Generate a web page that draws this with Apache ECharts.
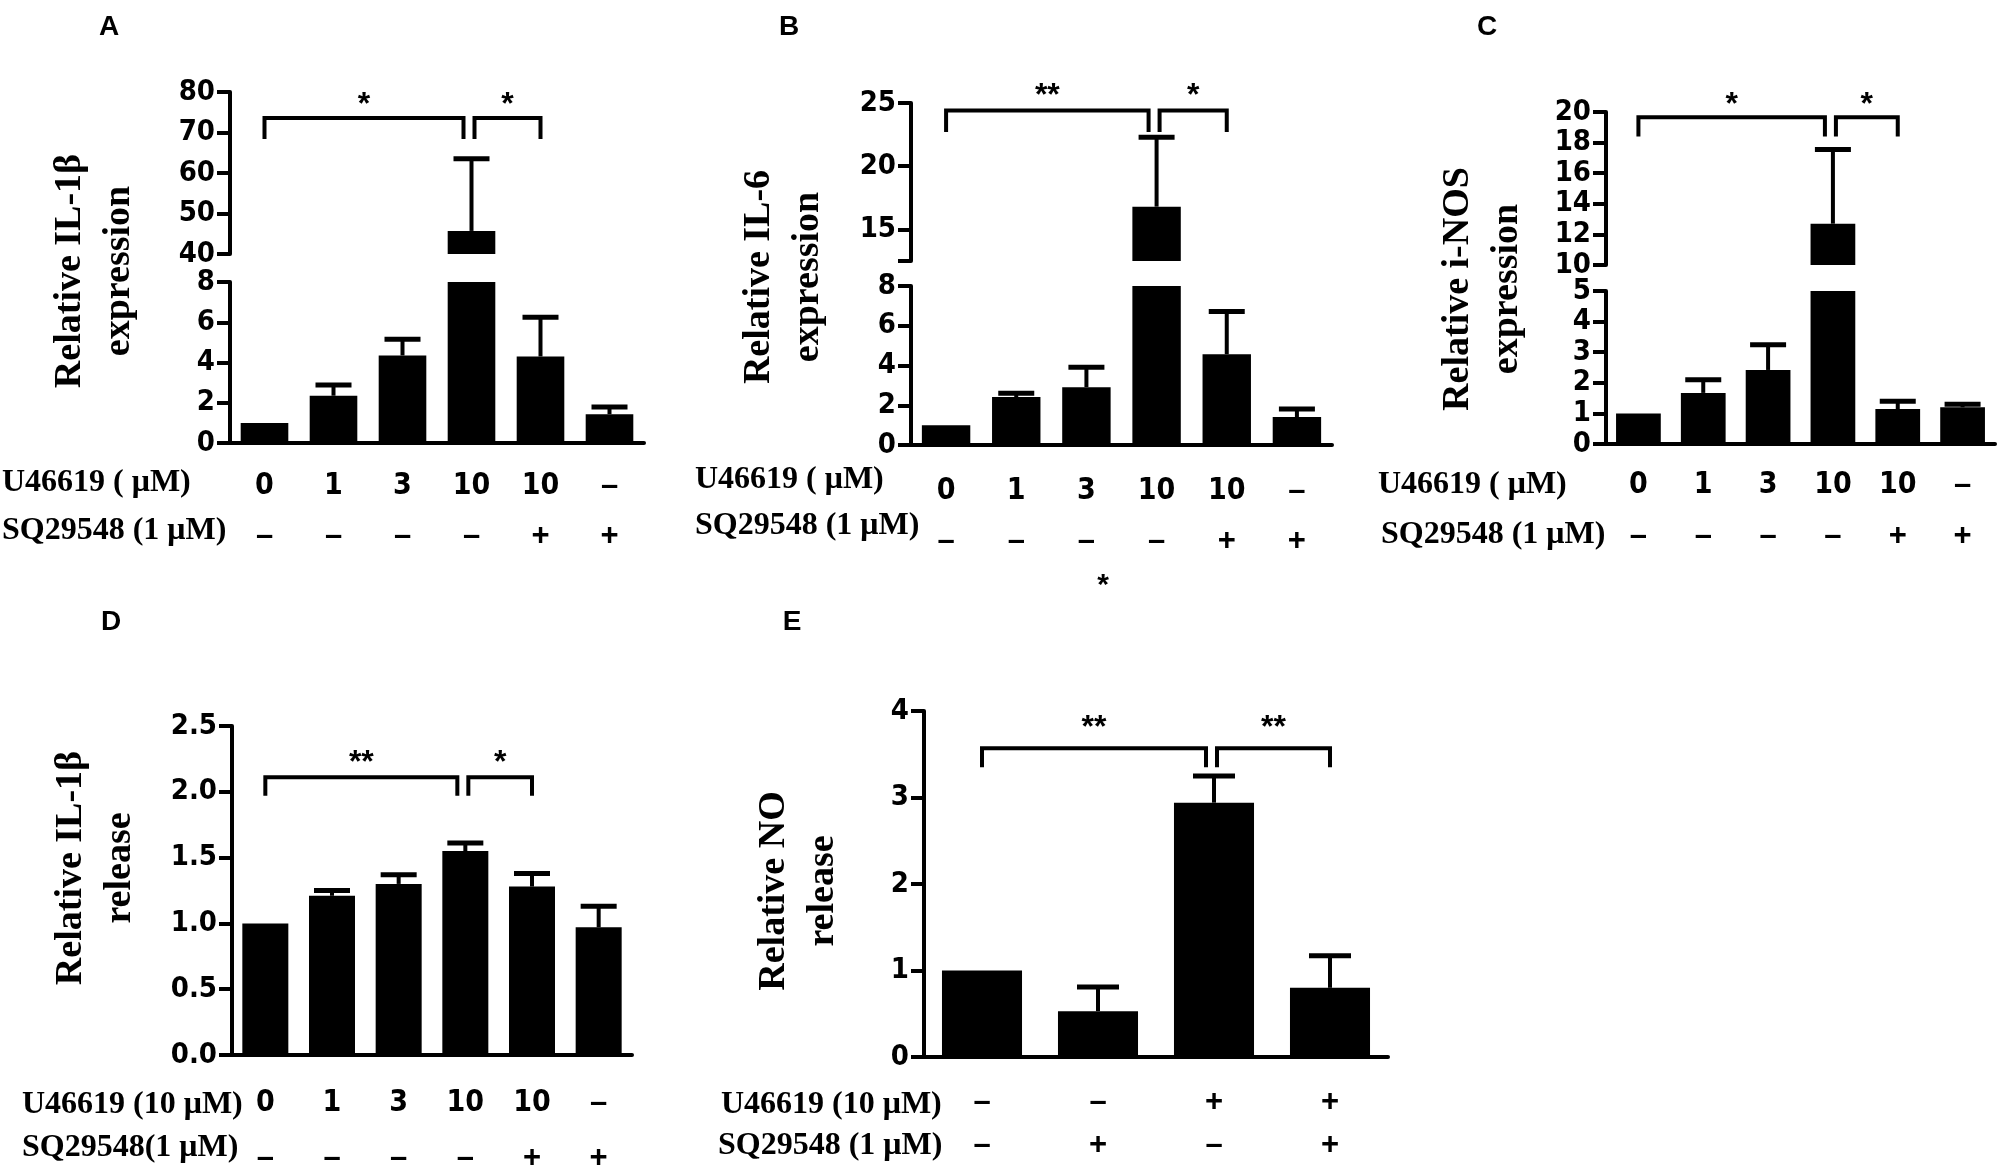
<!DOCTYPE html>
<html>
<head>
<meta charset="utf-8">
<script src="https://cdn.jsdelivr.net/npm/echarts@6/dist/echarts.min.js"></script>
<style>
html, body { margin: 0; padding: 0; background: #fff; }
#main { width: 2000px; height: 1174px; }
</style>
</head>
<body>
<div id="main"></div>
<script>
// rows printed under the bars
var u_dose = ['0', '1', '3', '10', '10', '–'];
var sq_dose = ['–', '–', '–', '–', '+', '+'];
var u_dose_e = ['–', '–', '+', '+'];
var sq_dose_e = ['–', '+', '–', '+'];

// A  relative IL-1β expression
var a_mean = [1.0, 2.35, 4.35, 45.7, 4.3, 1.43];
var a_sd = [0, 0.53, 0.8, 17.8, 1.95, 0.36];
// B  relative IL-6 expression
var b_mean = [1.0, 2.41, 2.91, 16.8, 4.57, 1.41];
var b_sd = [0, 0.2, 1.0, 5.5, 2.15, 0.4];
// C  relative i-NOS expression
var c_mean = [1.0, 1.67, 2.42, 12.7, 1.14, 1.2];
var c_sd = [0, 0.43, 0.82, 4.85, 0.26, 0.1];
// D  relative IL-1β release
var d_mean = [1.0, 1.21, 1.30, 1.55, 1.28, 0.97];
var d_sd = [0, 0.04, 0.07, 0.06, 0.10, 0.16];
// E  relative NO release
var e_mean = [1.0, 0.53, 2.94, 0.80];
var e_sd = [0, 0.28, 0.31, 0.37];

// brackets: [from bar, to bar, top value, leg end value, mark]
var a_sig = [[0, 3, 73.6, 68.4, '*'], [3, 4, 73.6, 68.4, '*']];
var b_sig = [[0, 3, 24.4, 22.7, '**'], [3, 4, 24.4, 22.7, '*']];
var c_sig = [[0, 3, 19.65, 18.4, '*'], [3, 4, 19.65, 18.4, '*']];
var d_sig = [[0, 3, 2.11, 1.97, '**'], [3, 4, 2.11, 1.97, '*']];
var e_sig = [[0, 2, 3.57, 3.35, '**'], [2, 3, 3.57, 3.35, '**']];

var NUM_FONT = '"Liberation Sans Narrow", "Arial Narrow", "DejaVu Sans Condensed", sans-serif';
var SANS = '"Liberation Sans", Arial, sans-serif';
var SERIF = '"Liberation Serif", "Times New Roman", serif';
var AX = { color: '#000', width: 4 };

var grids = [], xAxes = [], yAxes = [], series = [];

// error bar drawn up from the bar top
function errorItem(half) {
	return function (params, api) {
		var p0 = api.coord([api.value(0), api.value(1)]);
		var p1 = api.coord([api.value(0), api.value(2)]);
		return { type: 'group', children: [
			{ type: 'line', shape: { x1: p0[0], y1: p0[1], x2: p1[0], y2: p1[1] }, style: { stroke: '#000', lineWidth: 4 } },
			{ type: 'line', shape: { x1: p1[0] - half, y1: p1[1], x2: p1[0] + half, y2: p1[1] }, style: { stroke: '#000', lineWidth: 5 } }
		] };
	};
}

// significance brackets with stars
function bracketSeries(sig, gi, starUp) {
	return {
		type: 'custom', xAxisIndex: gi, yAxisIndex: gi, silent: true,
		data: sig.map(function (s) { return [s[0], s[2], s[1], s[3]]; }),
		renderItem: function (params, api) {
			var s = sig[params.dataIndex];
			var a = api.coord([s[0], s[2]]), b = api.coord([s[1], s[2]]);
			var leg = api.coord([s[0], s[3]])[1];
			var x1 = a[0], x2 = b[0];
			sig.forEach(function (o) {
				if (o !== s && o[0] === s[1]) x2 -= 8;
				if (o !== s && o[1] === s[0]) x1 += 3;
			});
			return { type: 'group', children: [
				{ type: 'polyline', shape: { points: [[x1, leg], [x1, a[1]], [x2, a[1]], [x2, leg]] },
					style: { stroke: '#000', lineWidth: 4, fill: 'none' } },
				{ type: 'text', x: (x1 + x2) / 2, y: a[1] - starUp,
					style: { text: s[4], fontSize: 32, fontWeight: 'bold', fontFamily: SANS, fill: '#000', align: 'center', verticalAlign: 'middle' } }
			] };
		}
	};
}

// "+" and "–" use a plain bold face, numbers the narrow one
function rowTag(s, row) {
	return (s === '+' || s === '–') ? '{s|' + s + '}' : '{' + row + '|' + s + '}';
}

function addPanel(p) {
	var segs = p.upper ? [p.lower, p.upper] : [p.lower];
	segs.forEach(function (seg, k) {
		var gi = grids.length;
		var isLower = (k === 0);
		grids.push({ left: p.left, width: p.width, top: seg.top, height: seg.height });
		xAxes.push({
			type: 'category', gridIndex: gi, show: isLower,
			data: p.mean.map(function (v, i) { return String(i); }),
			axisLine: { lineStyle: AX },
			axisTick: { alignWithLabel: true, length: 13, lineStyle: AX },
			axisLabel: {
				interval: 0, margin: p.margin,
				formatter: function (v, i) { return rowTag(p.u[i], 'a') + '\n' + rowTag(p.sq[i], 'a'); },
				rich: {
					a: { fontFamily: NUM_FONT, fontWeight: 'bold', fontSize: 30, color: '#000', lineHeight: p.lineH },
					s: { fontFamily: SANS, fontWeight: 'bold', fontSize: 31, color: '#000', lineHeight: p.lineH }
				}
			}
		});
		var y = {
			type: 'value', gridIndex: gi, min: seg.min, max: seg.max,
			splitLine: { show: false },
			axisLine: { show: true, lineStyle: AX },
			axisTick: { show: true, length: 13, lineStyle: AX },
			axisLabel: { margin: 15, fontFamily: NUM_FONT, fontWeight: 'bold', fontSize: 29, color: '#000', formatter: seg.fmt }
		};
		if (seg.ticks) {
			y.axisTick.customValues = seg.ticks;
			y.axisLabel.customValues = seg.labels;
		} else {
			y.interval = seg.interval;
		}
		yAxes.push(y);

		series.push({
			type: 'bar', xAxisIndex: gi, yAxisIndex: gi, barWidth: '69%', silent: true,
			itemStyle: { color: '#000' },
			data: p.mean.map(function (v) { return (isLower || v >= seg.min) ? v : '-'; })
		});
		var errs = [];
		p.mean.forEach(function (v, i) {
			if (p.sd[i] > 0 && v >= seg.min && v < seg.max) errs.push([i, v, v + p.sd[i]]);
		});
		series.push({ type: 'custom', xAxisIndex: gi, yAxisIndex: gi, silent: true, data: errs, renderItem: errorItem(p.cap) });
		if (k === segs.length - 1) series.push(bracketSeries(p.sig, gi, p.starUp));
	});
}

addPanel({ left: 230, width: 414, mean: a_mean, sd: a_sd, sig: a_sig, u: u_dose, sq: sq_dose, margin: 18, lineH: 50, cap: 18, starUp: 13,
	lower: { top: 282, height: 161, min: 0, max: 8, interval: 2 },
	upper: { top: 92, height: 162, min: 40, max: 80, interval: 10 } });
addPanel({ left: 911, width: 421, mean: b_mean, sd: b_sd, sig: b_sig, u: u_dose, sq: sq_dose, margin: 21, lineH: 50, cap: 18, starUp: 14,
	lower: { top: 286, height: 159, min: 0, max: 8, interval: 2 },
	upper: { top: 103, height: 158, min: 12.5, max: 25, ticks: [12.5, 15, 20, 25], labels: [15, 20, 25] } });
addPanel({ left: 1606, width: 389, mean: c_mean, sd: c_sd, sig: c_sig, u: u_dose, sq: sq_dose, margin: 16, lineH: 51, cap: 18, starUp: 12,
	lower: { top: 291, height: 153, min: 0, max: 5, interval: 1 },
	upper: { top: 112, height: 153, min: 10, max: 20, interval: 2 } });
addPanel({ left: 232, width: 400, mean: d_mean, sd: d_sd, sig: d_sig, u: u_dose, sq: sq_dose, margin: 21, lineH: 55, cap: 18, starUp: 14,
	lower: { top: 726, height: 330, min: 0, max: 2.5, interval: 0.5, fmt: function (v) { return v.toFixed(1); } } });
addPanel({ left: 924, width: 464, mean: e_mean, sd: e_sd, sig: e_sig, u: u_dose_e, sq: sq_dose_e, margin: 24, lineH: 43, cap: 21, starUp: 20,
	lower: { top: 711, height: 346, min: 0, max: 4, interval: 1 } });

// free text: panel letters, row names, axis titles
var graphic = [];
function txt(x, y, s, font, align, rot) {
	graphic.push({ type: 'text', x: x, y: y, rotation: rot || 0, silent: true,
		style: { text: s, font: font, fill: '#000', align: align, verticalAlign: 'middle', lineHeight: 49 } });
}
var LETTER = 'bold 28px ' + SANS;
txt(109, 27, 'A', LETTER, 'center');
txt(789, 27, 'B', LETTER, 'center');
txt(1487, 27, 'C', LETTER, 'center');
txt(111, 622, 'D', LETTER, 'center');
txt(792, 622, 'E', LETTER, 'center');

var ROW = 'bold 32px ' + SERIF;
txt(2, 483, 'U46619 ( μM)', ROW, 'left');
txt(2, 531, 'SQ29548 (1 μM)', ROW, 'left');
txt(695, 480, 'U46619 ( μM)', ROW, 'left');
txt(695, 526, 'SQ29548 (1 μM)', ROW, 'left');
txt(1378, 485, 'U46619 ( μM)', ROW, 'left');
txt(1381, 535, 'SQ29548 (1 μM)', ROW, 'left');
txt(22, 1105, 'U46619 (10 μM)', ROW, 'left');
txt(22, 1148, 'SQ29548(1 μM)', ROW, 'left');
txt(721, 1105, 'U46619 (10 μM)', ROW, 'left');
txt(718, 1146, 'SQ29548 (1 μM)', ROW, 'left');
txt(1103, 586, '*', 'bold 30px ' + SANS, 'center');

var TITLE = 'bold 38px ' + SERIF;
txt(95, 271, 'Relative IL-1β\nexpression', TITLE, 'center', Math.PI / 2);
txt(784, 277, 'Relative IL-6\nexpression', TITLE, 'center', Math.PI / 2);
txt(1483, 289, 'Relative i-NOS\nexpression', TITLE, 'center', Math.PI / 2);
txt(96, 868, 'Relative IL-1β\nrelease', TITLE, 'center', Math.PI / 2);
txt(799, 891, 'Relative NO\nrelease', TITLE, 'center', Math.PI / 2);

var myChart = echarts.init(document.getElementById('main'));
myChart.setOption({
	animation: false,
	backgroundColor: '#fff',
	grid: grids,
	xAxis: xAxes,
	yAxis: yAxes,
	series: series,
	graphic: graphic
});
</script>
</body>
</html>
